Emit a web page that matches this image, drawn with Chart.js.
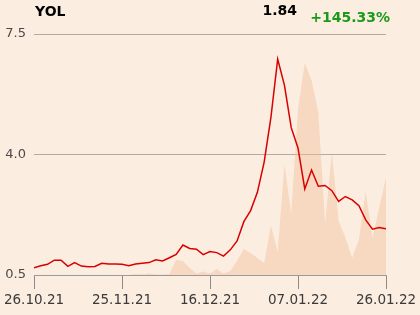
<!DOCTYPE html>
<html>
<head>
<meta charset="utf-8">
<script src="https://cdn.jsdelivr.net/npm/chart.js@4"></script>
<style>
  html, body { margin: 0; padding: 0; background: #fcede1; }
  #wrap { position: relative; width: 420px; height: 315px; font-family: 'DejaVu Sans', sans-serif; }
  .hd { position: absolute; font-weight: bold; font-size: 14px; line-height: 16px; white-space: nowrap; }
  #ticker { left: 35px; top: 3px; color: #000; }
  #last { right: 123px; top: 2px; color: #000; }
  #chg { right: 30px; top: 9px; color: #1a9a1a; }
</style>
</head>
<body>
<div id="wrap">
  <canvas id="chart" width="420" height="315"></canvas>
  <div class="hd" id="ticker">YOL</div>
  <div class="hd" id="last">1.84</div>
  <div class="hd" id="chg">+145.33%</div>
</div>
<script>
// etiquetas del eje x (cada 13 sesiones)
const tickLabels = ['26.10.21', '25.11.21', '16.12.21', '07.01.22', '26.01.22'];
const tickStep = 13;

// cierre diario
const precios = [
  0.71, 0.77, 0.81, 0.93, 0.93, 0.75, 0.86, 0.76, 0.74, 0.75,
  0.84, 0.82, 0.82, 0.81, 0.77, 0.82, 0.84, 0.86, 0.94, 0.91,
  1.00, 1.10, 1.37, 1.27, 1.25, 1.09, 1.18, 1.15, 1.05, 1.23,
  1.49, 2.05, 2.37, 2.90, 3.78, 5.08, 6.77, 6.01, 4.78, 4.19,
  3.00, 3.55, 3.08, 3.10, 2.95, 2.64, 2.78, 2.68, 2.51, 2.10,
  1.83, 1.88, 1.84
];

// volumen (unidades relativas)
const volumen = [
  0, 0, 0, 0, 0, 0, 0, 0, 0, 0,
  0, 0, 0, 0, 0, 1, 0.5, 1.5, 0.5, 0.5,
  1, 15, 14, 7, 1.5, 3.5, 1.5, 6, 1.5, 4,
  14, 26, 22, 17, 12, 49, 23, 110, 61, 165,
  211, 194, 162, 51, 122, 54, 37, 17, 35, 83,
  37, 67, 97
];

const yTicks = [0.5, 4.0, 7.5];

const ctx = document.getElementById('chart').getContext('2d');
new Chart(ctx, {
  type: 'line',
  data: {
    datasets: [
      {
        label: 'Precio',
        data: precios.map((v, i) => ({ x: i, y: v })),
        borderColor: '#d90000',
        borderWidth: 1.5,
        pointRadius: 0,
        tension: 0,
        fill: false,
        yAxisID: 'y',
        order: 1
      },
      {
        label: 'Volumen',
        data: volumen.map((v, i) => ({ x: i, y: v })),
        borderWidth: 0,
        backgroundColor: 'rgba(242,191,154,0.45)',
        pointRadius: 0,
        tension: 0,
        fill: 'origin',
        yAxisID: 'y2',
        order: 2
      }
    ]
  },
  options: {
    responsive: false,
    animation: false,
    layout: { padding: { top: 34, right: 34, left: 0, bottom: 0 } },
    plugins: { legend: { display: false }, tooltip: { enabled: false } },
    scales: {
      x: {
        type: 'linear',
        min: 0,
        max: precios.length - 1,
        afterBuildTicks: s => { s.ticks = tickLabels.map((t, i) => ({ value: i * tickStep })); },
        afterFit: s => { s.height = 40; },
        ticks: {
          autoSkip: false,
          maxRotation: 0,
          padding: 3,
          color: '#3a3a3a',
          font: { family: 'DejaVu Sans', size: 13.5 },
          callback: v => tickLabels[Math.round(v / tickStep)]
        },
        grid: { drawOnChartArea: false, tickLength: 14, color: '#8c8c8c', lineWidth: 1 },
        border: { color: '#9a9a9a', width: 1 }
      },
      y: {
        min: 0.5,
        max: 7.5,
        afterBuildTicks: s => { s.ticks = yTicks.map(v => ({ value: v })); },
        afterFit: s => { s.width = 34; },
        ticks: {
          padding: 8,
          color: '#4a4a4a',
          font: { family: 'DejaVu Sans', size: 13 },
          callback: v => v.toFixed(1)
        },
        grid: { drawTicks: false, color: '#b3aaa3', lineWidth: 1 },
        border: { display: false }
      },
      y2: { display: false, min: 0, max: 240 }
    }
  }
});
</script>
</body>
</html>
